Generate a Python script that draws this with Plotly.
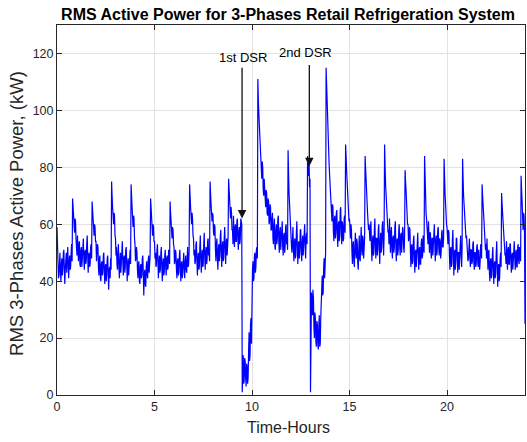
import numpy as np
import plotly.graph_objects as go

# Sample interval of the recorded series (hours); 40 samples per hour
time_step_h = 0.025

# RMS 3-phase active power (kW); one row per hour, hours 0-6
power_00_06 = [
    59,52, 47,41, 42,49, 50,43, 40,46, 48,42, 44,50, 51,45, 39,44, 47,50, 43,48, 52,46, 41,47, 49,44, 45,50, 53,47, 69,66, 63,59, 57,62, 61,55,
    53,49, 56,50, 47,53, 54,46, 45,51, 52,45, 48,54, 55,48, 44,50, 51,46, 47,53, 56,49, 43,49, 50,45, 46,52, 53,48, 68,65, 62,57, 56,60, 59,54,
    54,47, 49,53, 52,45, 42,48, 49,41, 40,46, 47,42, 43,49, 50,44, 39,45, 46,40, 42,48, 49,43, 37,44, 45,41, 48,44, 75,70, 66,61, 60,64, 63,56,
    55,49, 52,46, 44,50, 53,45, 41,47, 50,43, 46,52, 54,47, 42,48, 49,43, 45,51, 52,46, 40,46, 48,42, 44,49, 51,46, 74,70, 66,61, 59,63, 62,55,
    53,47, 48,52, 50,44, 41,46, 47,40, 39,45, 46,41, 42,48, 49,43, 35,42, 44,39, 38,45, 47,42, 41,47, 49,43, 45,49, 69,65, 62,58, 56,60, 59,54,
    54,48, 50,45, 46,51, 53,47, 41,46, 49,43, 44,50, 52,45, 40,46, 48,42, 43,49, 51,45, 42,48, 49,44, 45,51, 50,46, 68,64, 61,57, 55,59, 58,53,
]
# hours 6-12 (1st DSR event near 9.5 h)
power_06_12 = [
    52,46, 47,51, 50,44, 41,47, 48,42, 43,49, 51,45, 40,46, 47,41, 44,50, 50,43, 41,47, 49,44, 43,48, 52,45, 46,50, 74,70, 66,62, 60,64, 62,56,
    55,49, 51,46, 47,53, 54,47, 42,48, 50,44, 45,52, 56,48, 43,49, 51,45, 46,53, 57,49, 44,50, 52,46, 48,54, 55,49, 50,47, 75,71, 67,63, 61,64,
    63,57, 56,60, 59,51, 47,53, 55,48, 44,51, 53,47, 49,56, 58,50, 45,52, 54,47, 48,55, 59,52, 46,53, 55,49, 51,56, 76,72, 68,63, 62,66, 64,58,
    58,53, 63,56, 52,59, 60,54, 54,61, 62,55, 51,57, 59,53, 55,62, 61,60, 1,9, 14,4, 5,13, 12,6, 3,11, 10,4, 6,15, 22,12, 14,25, 27,18,
    38,44, 47,40, 41,49, 50,43, 45,51, 52,48, 111,104, 99,94, 91,86, 83,79, 76,82, 80,72, 70,76, 73,67, 66,72, 71,64, 63,69, 68,60, 61,67, 66,58,
    58,62, 64,55, 53,60, 62,52, 51,58, 60,53, 55,62, 63,54, 50,57, 59,51, 54,61, 61,52, 49,56, 57,50, 52,59, 60,53, 55,51, 86,78, 71,66, 63,60,
]
# hours 12-18 (2nd DSR event near 13 h)
power_12_18 = [
    57,52, 50,56, 59,51, 47,54, 55,48, 49,57, 61,53, 46,52, 54,48, 50,58, 58,51, 47,53, 56,49, 52,59, 60,52, 48,55, 57,53, 84,77, 80,83, 73,76,
    1,30, 36,31, 28,37, 34,24, 20,29, 27,19, 17,26, 25,18, 16,24, 28,17, 18,27, 34,38, 42,35, 36,45, 48,41, 44,50, 115,108, 101,96, 92,87, 82,78,
    75,71, 68,64, 61,67, 66,57, 54,62, 63,55, 57,64, 65,56, 52,60, 61,54, 56,65, 66,58, 53,61, 60,54, 55,62, 63,57, 88,84, 79,74, 72,69, 66,61,
    62,57, 55,60, 58,50, 46,53, 54,47, 45,52, 57,50, 48,55, 53,46, 44,51, 56,48, 47,54, 59,51, 49,56, 55,48, 51,55, 84,81, 78,72, 68,64, 62,58,
    60,55, 54,59, 61,52, 47,54, 56,49, 50,58, 62,53, 48,55, 55,49, 51,58, 60,52, 46,53, 57,50, 52,59, 61,54, 49,56, 88,80, 74,70, 67,64, 63,57,
    58,53, 62,55, 50,57, 59,51, 48,55, 56,50, 52,59, 61,53, 47,54, 55,49, 51,58, 60,52, 49,56, 57,50, 53,59, 58,52, 50,55, 79,75, 72,67, 64,60,
]
# hours 18-24
power_18_24 = [
    60,54, 55,59, 58,50, 45,52, 53,46, 47,54, 56,49, 43,50, 51,45, 48,55, 57,49, 44,51, 52,46, 46,53, 55,48, 49,56, 54,50, 84,75, 68,64, 62,58,
    58,53, 61,55, 50,57, 57,50, 48,55, 55,49, 52,58, 60,53, 47,54, 56,49, 51,58, 59,52, 49,55, 54,48, 50,57, 58,52, 52,55, 83,77, 71,66, 64,60,
    59,54, 53,58, 57,49, 44,51, 52,45, 46,54, 58,50, 42,49, 51,44, 47,55, 55,48, 43,50, 50,44, 48,55, 56,49, 45,52, 83,76, 70,66, 64,61, 60,55,
    56,50, 52,47, 48,54, 55,48, 45,51, 51,46, 47,53, 54,47, 44,50, 50,45, 46,52, 53,47, 45,51, 49,44, 47,53, 52,48, 74,70, 67,63, 60,58, 56,51,
    53,48, 55,49, 44,50, 51,43, 40,47, 48,41, 42,49, 52,45, 39,46, 47,41, 43,50, 54,46, 38,45, 46,40, 41,48, 50,45, 71,67, 64,60, 57,55, 54,49,
    50,46, 54,48, 44,51, 52,46, 46,53, 53,47, 43,49, 50,44, 47,53, 54,48, 44,50, 51,45, 45,52, 53,47, 46,52, 51,47, 77,72, 68,62, 58,64, 63,57,
    25,
]

x_ticks = [0, 5, 10, 15, 20]
y_ticks = [0, 20, 40, 60, 80, 100, 120]

# DSR annotations: label, label position (h, kW), arrow tail and tip (h, kW)
dsr_labels = ["1st DSR", "2nd DSR"]
dsr_label_x = [9.55, 12.73]
dsr_label_y = [118.7, 120.3]
dsr_tail_x = [9.49, 12.94]
dsr_tail_y = [115.5, 116.5]
dsr_tip_x = [9.49, 12.94]
dsr_tip_y = [62.0, 80.4]

power = power_00_06 + power_06_12 + power_12_18 + power_18_24
hours = np.arange(len(power)) * time_step_h

FONT = "Liberation Sans, Arial, Helvetica, sans-serif"
AX = "#262626"

fig = go.Figure()
fig.add_trace(go.Scatter(x=hours, y=power, mode="lines",
                         line=dict(color="#0000ff", width=1.2),
                         showlegend=False, hoverinfo="skip"))

for lab, lx, ly in zip(dsr_labels, dsr_label_x, dsr_label_y):
    fig.add_annotation(x=lx, y=ly, xref="x", yref="y", text=lab, showarrow=False,
                       font=dict(family=FONT, size=13, color="#000000"))
for tx, ty, hx, hy in zip(dsr_tail_x, dsr_tail_y, dsr_tip_x, dsr_tip_y):
    fig.add_annotation(x=hx, y=hy, ax=tx, ay=ty, xref="x", yref="y",
                       axref="x", ayref="y", text="", showarrow=True,
                       arrowhead=2, arrowsize=1.3, arrowwidth=1.3,
                       arrowcolor="#111111")

# axis titles placed as paper annotations
fig.add_annotation(x=0.4936, y=-0.0865, xref="paper", yref="paper",
                   text="Time-Hours", showarrow=False, xanchor="center",
                   yanchor="middle",
                   font=dict(family=FONT, size=16, color=AX))
fig.add_annotation(x=-0.0855, y=0.492, xref="paper", yref="paper",
                   text="RMS 3-Phases Active Power, (kW)", showarrow=False,
                   textangle=-90, xanchor="center", yanchor="middle",
                   font=dict(family=FONT, size=18.5, color=AX))

axis_common = dict(showline=True, linecolor=AX, linewidth=1, mirror="allticks",
                   ticks="inside", ticklen=5, tickcolor=AX, tickwidth=1,
                   showgrid=True, gridcolor="#e2e2e2", gridwidth=1,
                   zeroline=False, automargin=False,
                   tickfont=dict(family=FONT, size=12.5, color=AX))

fig.update_layout(
    width=527, height=442,
    margin=dict(l=57, r=2, t=25, b=47),
    paper_bgcolor="white", plot_bgcolor="white",
    hovermode=False,
    title=dict(text="<b>RMS Active Power for 3-Phases Retail Refrigeration System</b>",
               x=288 / 527, xanchor="center", y=1 - 14 / 442, yanchor="middle",
               yref="container", xref="container",
               font=dict(family=FONT, size=16, color="#000000")),
    xaxis=dict(range=[0, 24], tickvals=x_ticks, **axis_common),
    yaxis=dict(range=[0, 130], tickvals=y_ticks, **axis_common),
)

fig.write_html("out.html",
               config={"displayModeBar": False, "staticPlot": True},
               post_script="document.body.style.margin='0px';"
                           "document.body.style.overflow='hidden';")
